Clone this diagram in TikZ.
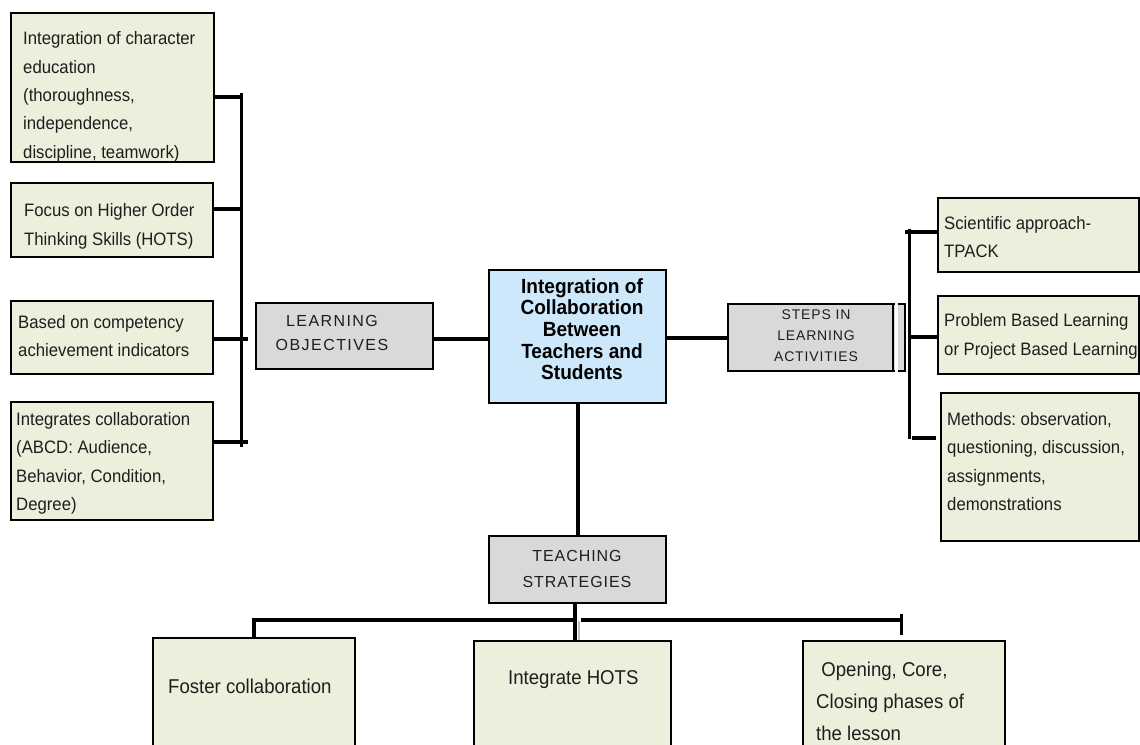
\documentclass[tikz,border=0pt]{standalone}
\usepackage{fontspec}
\setmainfont{Liberation Sans}[FakeStretch=0.93]
\newfontfamily\capsfont{Liberation Sans}
\frenchspacing
\definecolor{beige}{RGB}{237,238,219}
\definecolor{paleblue}{RGB}{204,232,250}
\definecolor{boxgray}{RGB}{217,217,217}
\definecolor{ink}{RGB}{30,30,30}
\tikzset{
  box/.style={draw=black, line width=2.4pt, fill=beige, inner sep=0pt, anchor=north west},
  graybox/.style={box, fill=boxgray},
  hubbox/.style={box, fill=paleblue},
  txt/.style={inner sep=0pt, anchor=north west, align=left, text=ink,
              font=\fontsize{18}{28.4}\selectfont},
  bigtxt/.style={txt, font=\fontsize{20}{32}\selectfont},
  capstxt/.style={inner sep=0pt, anchor=north, align=center, text=ink},
  link/.style={line width=3.6pt, black},
  stub/.style={line width=4pt, black},
  rail/.style={line width=3pt, black}
}
\begin{document}
\begin{tikzpicture}[x=1pt, y=-1pt]
\path[use as bounding box, fill=white] (0,0) rectangle (1140,744);
\clip (0,0) rectangle (1140,744);

% ---- learning objectives: left column
\node[box, minimum width=203pt, minimum height=149pt] (lo1) at (10,12) {};
\node[txt] (lo1t) at (23,31.5) {Integration of character\\education\\(thoroughness,\\independence,\\discipline, teamwork)};
\node[box, minimum width=202pt, minimum height=74pt] (lo2) at (10,182) {};
\node[txt] (lo2t) at (24,203.5) {Focus on Higher Order\\Thinking Skills (HOTS)};
\node[box, minimum width=202pt, minimum height=73pt] (lo3) at (10,300) {};
\node[txt] (lo3t) at (18,315) {Based on competency\\achievement indicators};
\node[box, minimum width=202pt, minimum height=118pt] (lo4) at (10,401) {};
\node[txt] (lo4t) at (16,412) {Integrates collaboration\\(ABCD: Audience,\\Behavior, Condition,\\Degree)};

\coordinate (lrailtop) at (241,93);
\coordinate (lrailbot) at (241,447);
\draw[rail] (lrailtop) -- (lrailbot);
\draw[stub] ([yshift=-9.5pt]lo1.east) -- ([yshift=-9.5pt]lo1.east -| lrailtop);
\draw[stub] ([yshift=11pt]lo2.east) -- ([yshift=11pt]lo2.east -| lrailtop);
\draw[stub] ([yshift=-1.5pt]lo3.east) -- ++(34,0);
\draw[stub] ([yshift=19pt]lo4.east) -- ++(34,0);

% ---- labelled category boxes
\node[graybox, minimum width=177pt, minimum height=66pt] (lobj) at (255,302) {};
\node[capstxt, font=\capsfont\fontsize{16}{24}\selectfont\addfontfeature{LetterSpace=9}]
  (lobjt) at (332,315) {LEARNING\\OBJECTIVES};

\node[hubbox, minimum width=177pt, minimum height=133pt] (hub) at (488,269) {};
\node[capstxt, font=\bfseries\fontsize{20.5}{21.7}\selectfont, text=black]
  (hubt) at (582,278) {Integration of\\Collaboration\\Between\\Teachers and\\Students};

\node[graybox, minimum width=177pt, minimum height=67pt] (steps) at (727,303) {};
\draw[line width=3pt, white] (896.5,301.5) -- (896.5,371.5);
\draw[line width=2.4pt, black] (893,303) -- (893,370);
\node[capstxt, font=\capsfont\fontsize{14}{21}\selectfont\addfontfeature{LetterSpace=6}]
  (stepst) at (816,310) {STEPS IN\\LEARNING\\ACTIVITIES};

\node[graybox, minimum width=177pt, minimum height=67pt] (teach) at (488,535) {};
\node[capstxt, font=\capsfont\fontsize{16}{26}\selectfont\addfontfeature{LetterSpace=6}]
  (teacht) at (577,550) {TEACHING\\STRATEGIES};

% ---- learning activities: right column
\node[box, minimum width=201pt, minimum height=74pt] (rb1) at (937,197) {};
\node[txt] (rb1t) at (944,216) {Scientific approach-\\TPACK};
\node[box, minimum width=201pt, minimum height=78pt] (rb2) at (937,295) {};
\node[txt] (rb2t) at (944,313.5) {Problem Based Learning\\or Project Based Learning};
\node[box, minimum width=198pt, minimum height=148pt] (rb3) at (940,392) {};
\node[txt] (rb3t) at (947,412) {Methods: observation,\\questioning, discussion,\\assignments,\\demonstrations};

\coordinate (rrailtop) at (909,229);
\coordinate (rrailbot) at (909,439);
\draw[rail] (rrailtop) -- (rrailbot);
\draw[stub] ([yshift=3pt]rb1.west) -- ([yshift=3pt,xshift=-4pt]rb1.west -| rrailtop);
\draw[stub] ([yshift=-2pt]rb2.west) -- ([yshift=-2pt]rb2.west -| rrailtop);
\draw[stub] ([yshift=29pt,xshift=-4pt]rb3.west) -- ++(-24,0);

% ---- teaching strategies: bottom row
\node[box, minimum width=202pt, minimum height=130pt] (foster) at (152,637) {};
\node[bigtxt] (fostert) at (168,679) {Foster collaboration};
\node[box, minimum width=197pt, minimum height=130pt] (hots) at (473,640) {};
\node[bigtxt] (hotst) at (508,670) {Integrate HOTS};
\node[box, minimum width=202pt, minimum height=130pt] (phase) at (802,640) {};
\node[bigtxt] (phaset) at (816,662) {\ Opening, Core,\\Closing phases of\\the lesson};

% ---- connectors from the hub
\draw[link] ([yshift=-3pt]lobj.east) -- ([yshift=-3pt]lobj.east -| hub.west);
\draw[link] (hub.east |- steps.west) -- (steps.west);
\draw[link] (hub.south) -- (teach.north);

\coordinate (split) at (575,620);
\coordinate (splitr) at (581,620);
\coordinate (rtick) at (901,620);
\draw[link] (teach.south -| split) -- (split |- hots.north);
\draw[link] (foster.north) -- (foster.north |- split) -- (split);
\draw[link] (splitr) -- (rtick);
\draw[line width=3pt, black] ([yshift=6pt]rtick) -- ([yshift=-15pt]rtick);
\draw[line width=1.8pt, black!25] (579,621) -- (579,640);
\end{tikzpicture}
\end{document}
